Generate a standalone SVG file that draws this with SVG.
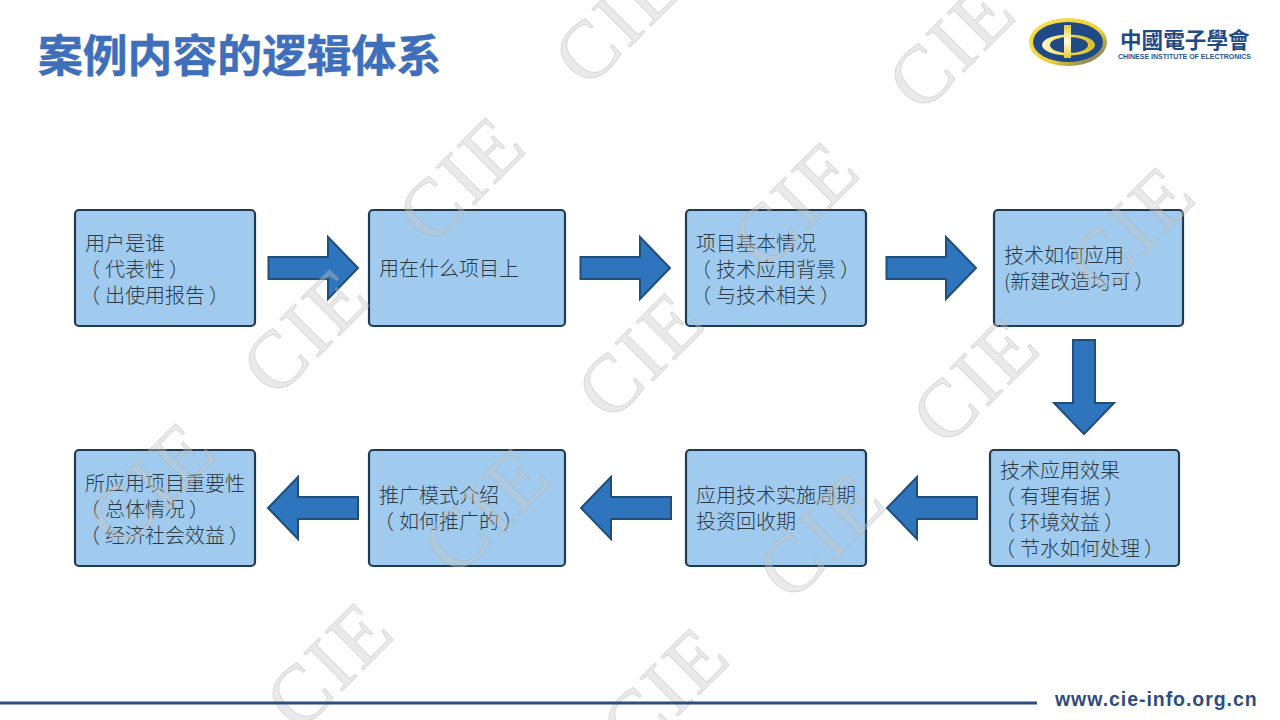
<svg xmlns="http://www.w3.org/2000/svg" width="1280" height="720" viewBox="0 0 1280 720">
<defs>
<linearGradient id="ring" x1="0" y1="0" x2="1" y2="1"><stop offset="0" stop-color="#f6e25a"/><stop offset=".6" stop-color="#f0d030"/><stop offset="1" stop-color="#4a5a78"/></linearGradient>
<linearGradient id="inner" x1="0" y1="0" x2="1" y2="0"><stop offset="0" stop-color="#fdf6c8"/><stop offset=".5" stop-color="#f2d84a"/><stop offset="1" stop-color="#d8bd2c"/></linearGradient>
<linearGradient id="pillar" x1="0" y1="0" x2="0" y2="1"><stop offset="0" stop-color="#e8c92c"/><stop offset=".5" stop-color="#fffbe6"/><stop offset="1" stop-color="#e8c92c"/></linearGradient>
</defs>
<style>
.box{fill:#a0cbee;stroke:#1f3a52;stroke-width:2.2}
.arr{fill:#2f75bd;stroke:#1f4e79;stroke-width:2}
.t{font-family:"Noto Sans CJK SC","Liberation Sans",sans-serif;font-size:20px;font-weight:300;fill:#2c3a47}
.wm{font-family:"Liberation Serif",serif;font-size:82px;fill:#c8c8c8;fill-opacity:.38;stroke:#aaa;stroke-opacity:.35;stroke-width:1;letter-spacing:3px}
</style>
<rect width="1280" height="720" fill="#fff"/>
<text x="38" y="72" font-family="Noto Sans CJK SC,sans-serif" font-size="44.8" font-weight="700" fill="#3f6fba" stroke="#3f6fba" stroke-width=".5">案例内容的逻辑体系</text>
<g id="logo">
<ellipse cx="1068" cy="42" rx="39" ry="24" fill="url(#ring)"/>
<ellipse cx="1068" cy="42" rx="35" ry="20" fill="#1f4a86"/>
<ellipse cx="1068.500" cy="45" rx="26.500" ry="10.500" fill="url(#inner)"/>
<ellipse cx="1069" cy="45" rx="19" ry="8" fill="#1f4a86"/>
<rect x="1064" y="25" width="7" height="33" fill="url(#pillar)"/>
<text x="1120" y="48" font-family="Noto Sans CJK TC,sans-serif" font-size="21.600" font-weight="700" fill="#1f4a86">中國電子學會</text>
<text x="1118" y="59" font-family="Liberation Sans,sans-serif" font-size="7" font-weight="700" fill="#2a5590">CHINESE INSTITUTE OF ELECTRONICS</text>
</g>
<g id="connectors">
<path class="arr" d="M268.500 257H328V237L358 268L328 299V279H268.500Z"/>
<path class="arr" d="M580.500 257H640V237L670 268L640 299V279H580.500Z"/>
<path class="arr" d="M886.500 257H946V237L976 268L946 299V279H886.500Z"/>
<path class="arr" d="M1073 340H1095V403H1114L1084 434L1054 403H1073Z"/>
<path class="arr" d="M977 497H917V477L887 508L917 539V519H977Z"/>
<path class="arr" d="M671 497H611V477L581 508L611 539V519H671Z"/>
<path class="arr" d="M358 497H298V477L268 508L298 539V519H358Z"/>
</g>
<g id="n1"><rect class="box" x="75" y="210" width="180" height="116" rx="4"/><text class="t" x="85" y="250.500">用户是谁</text><text class="t" x="85" y="276.500"><tspan dx="-5">（</tspan><tspan dx="5">代表性</tspan><tspan dx="4">）</tspan></text><text class="t" x="85" y="302.500"><tspan dx="-5">（</tspan><tspan dx="5">出使用报告</tspan><tspan dx="4">）</tspan></text></g>
<g id="n2"><rect class="box" x="369" y="210" width="196" height="116" rx="4"/><text class="t" x="379" y="275.500">用在什么项目上</text></g>
<g id="n3"><rect class="box" x="686" y="210" width="180" height="116" rx="4"/><text class="t" x="696" y="250.500">项目基本情况</text><text class="t" x="696" y="276.500"><tspan dx="-5">（</tspan><tspan dx="5">技术应用背景</tspan><tspan dx="4">）</tspan></text><text class="t" x="696" y="302.500"><tspan dx="-5">（</tspan><tspan dx="5">与技术相关</tspan><tspan dx="4">）</tspan></text></g>
<g id="n4"><rect class="box" x="994" y="210" width="189" height="116" rx="4"/><text class="t" x="1004" y="262.500">技术如何应用</text><text class="t" x="1004" y="288.500">(新建改造均可<tspan dx="4">）</tspan></text></g>
<g id="n5"><rect class="box" x="990" y="450" width="189" height="116" rx="4"/><text class="t" x="1000" y="477.500">技术应用效果</text><text class="t" x="1000" y="503.500"><tspan dx="-5">（</tspan><tspan dx="5">有理有据</tspan><tspan dx="4">）</tspan></text><text class="t" x="1000" y="529.500"><tspan dx="-5">（</tspan><tspan dx="5">环境效益</tspan><tspan dx="4">）</tspan></text><text class="t" x="1000" y="555.500"><tspan dx="-5">（</tspan><tspan dx="5">节水如何处理</tspan><tspan dx="4">）</tspan></text></g>
<g id="n6"><rect class="box" x="686" y="450" width="180" height="116" rx="4"/><text class="t" x="696" y="502.500">应用技术实施周期</text><text class="t" x="696" y="528.500">投资回收期</text></g>
<g id="n7"><rect class="box" x="369" y="450" width="196" height="116" rx="4"/><text class="t" x="379" y="502.500">推广模式介绍</text><text class="t" x="379" y="528.500"><tspan dx="-5">（</tspan><tspan dx="5">如何推广的</tspan><tspan dx="4">）</tspan></text></g>
<g id="n8"><rect class="box" x="75" y="450" width="180" height="116" rx="4"/><text class="t" x="85" y="490.500">所应用项目重要性</text><text class="t" x="85" y="516.500"><tspan dx="-5">（</tspan><tspan dx="5">总体情况</tspan><tspan dx="4">）</tspan></text><text class="t" x="85" y="542.500"><tspan dx="-5">（</tspan><tspan dx="5">经济社会效益</tspan><tspan dx="4">）</tspan></text></g>
<g id="watermark" class="wm">
<text transform="translate(587 90) rotate(-45)">CIE</text>
<text transform="translate(921 115) rotate(-45)">CIE</text>
<text transform="translate(275 400) rotate(-45)">CIE</text>
<text transform="translate(431 248) rotate(-45)">CIE</text>
<text transform="translate(765 273) rotate(-45)">CIE</text>
<text transform="translate(1101 298) rotate(-45)">CIE</text>
<text transform="translate(610 424) rotate(-45)">CIE</text>
<text transform="translate(945 449) rotate(-45)">CIE</text>
<text transform="translate(121 554) rotate(-45)">CIE</text>
<text transform="translate(456 579) rotate(-45)">CIE</text>
<text transform="translate(791 604) rotate(-45)">CIE</text>
<text transform="translate(299 734) rotate(-45)">CIE</text>
<text transform="translate(635 759) rotate(-45)">CIE</text>
</g>
<rect x="0" y="701.500" width="1037" height="3" fill="#2e4d7f"/>
<text x="1055" y="706" font-family="Liberation Sans,sans-serif" font-size="19.500" font-weight="700" letter-spacing=".95" fill="#2e4d7f">www.cie-info.org.cn</text>
</svg>
